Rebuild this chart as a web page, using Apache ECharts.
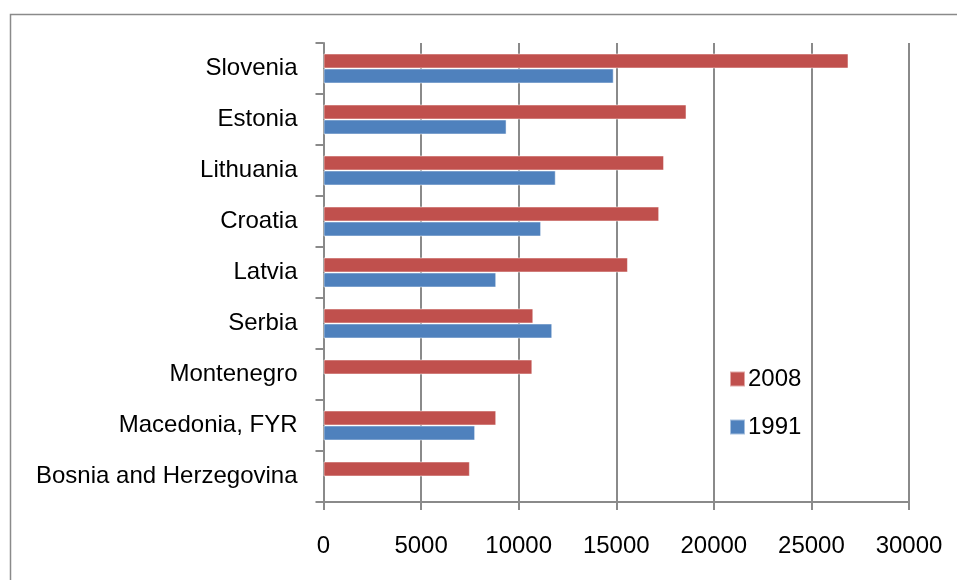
<!DOCTYPE html>
<html>
<head>
<meta charset="utf-8">
<script src="https://cdn.jsdelivr.net/npm/echarts@6/dist/echarts.min.js"></script>
<style>
  html, body { margin: 0; padding: 0; background: #fff; }
  #chart { width: 957px; height: 580px; }
</style>
</head>
<body>
<div id="chart"></div>
<script>
// 数据
var countries = ['Slovenia', 'Estonia', 'Lithuania', 'Croatia', 'Latvia', 'Serbia', 'Montenegro', 'Macedonia, FYR', 'Bosnia and Herzegovina']
var values2008 = [26900, 18600, 17450, 17200, 15600, 10750, 10700, 8850, 7500]
var values1991 = [14870, 9380, 11900, 11150, 8850, 11720, null, 7770, null]
var xTicks = [0, 5000, 10000, 15000, 20000, 25000, 30000]

var myChart = echarts.init(document.getElementById('chart'))
var font = 'Liberation Sans'
var gray = '#8a8a8a'

var option = {
  animation: false,
  textStyle: { fontFamily: font },
  graphic: [
    {
      type: 'rect',
      left: 8,
      top: 12,
      shape: { width: 1000, height: 1000 },
      style: { fill: 'none', stroke: gray, lineWidth: 1.5 }
    }
  ],
  legend: {
    orient: 'vertical',
    left: 724,
    top: 361,
    icon: 'rect',
    itemWidth: 15,
    itemHeight: 15,
    itemGap: 22,
    data: ['2008', '1991'],
    textStyle: { fontFamily: font, fontSize: 24, color: '#000', lineHeight: 26, padding: [0, 0, 0, -2] }
  },
  grid: {
    left: 323.5,
    right: 48,
    top: 43,
    bottom: 78,
    containLabel: false
  },
  xAxis: {
    type: 'value',
    min: 0,
    max: 30000,
    interval: 5000,
    axisLine: { show: true, lineStyle: { color: gray, width: 2 } },
    axisTick: { show: true, length: 8, lineStyle: { color: gray, width: 2 } },
    splitLine: { show: true, lineStyle: { color: gray, width: 2 } },
    axisLabel: {
      color: '#000',
      fontFamily: font,
      fontSize: 24,
      margin: 32,
      formatter: function (v) {
        return xTicks.indexOf(v) >= 0 ? String(v) : ''
      }
    }
  },
  yAxis: {
    type: 'category',
    inverse: true,
    data: countries,
    axisLine: { show: true, lineStyle: { color: gray, width: 2 } },
    axisTick: { show: true, length: 8, lineStyle: { color: gray, width: 2 } },
    axisLabel: { color: '#000', fontFamily: font, fontSize: 24, margin: 26 }
  },
  series: [
    {
      name: '2008',
      type: 'bar',
      barWidth: 15,
      barGap: '0%',
      itemStyle: { color: '#C0504D', borderColor: 'rgba(255,255,255,0.5)', borderWidth: 1 },
      data: values2008
    },
    {
      name: '1991',
      type: 'bar',
      barWidth: 15,
      barGap: '0%',
      itemStyle: { color: '#4F81BD', borderColor: 'rgba(255,255,255,0.5)', borderWidth: 1 },
      data: values1991
    }
  ]
}

myChart.setOption(option)
</script>
</body>
</html>
